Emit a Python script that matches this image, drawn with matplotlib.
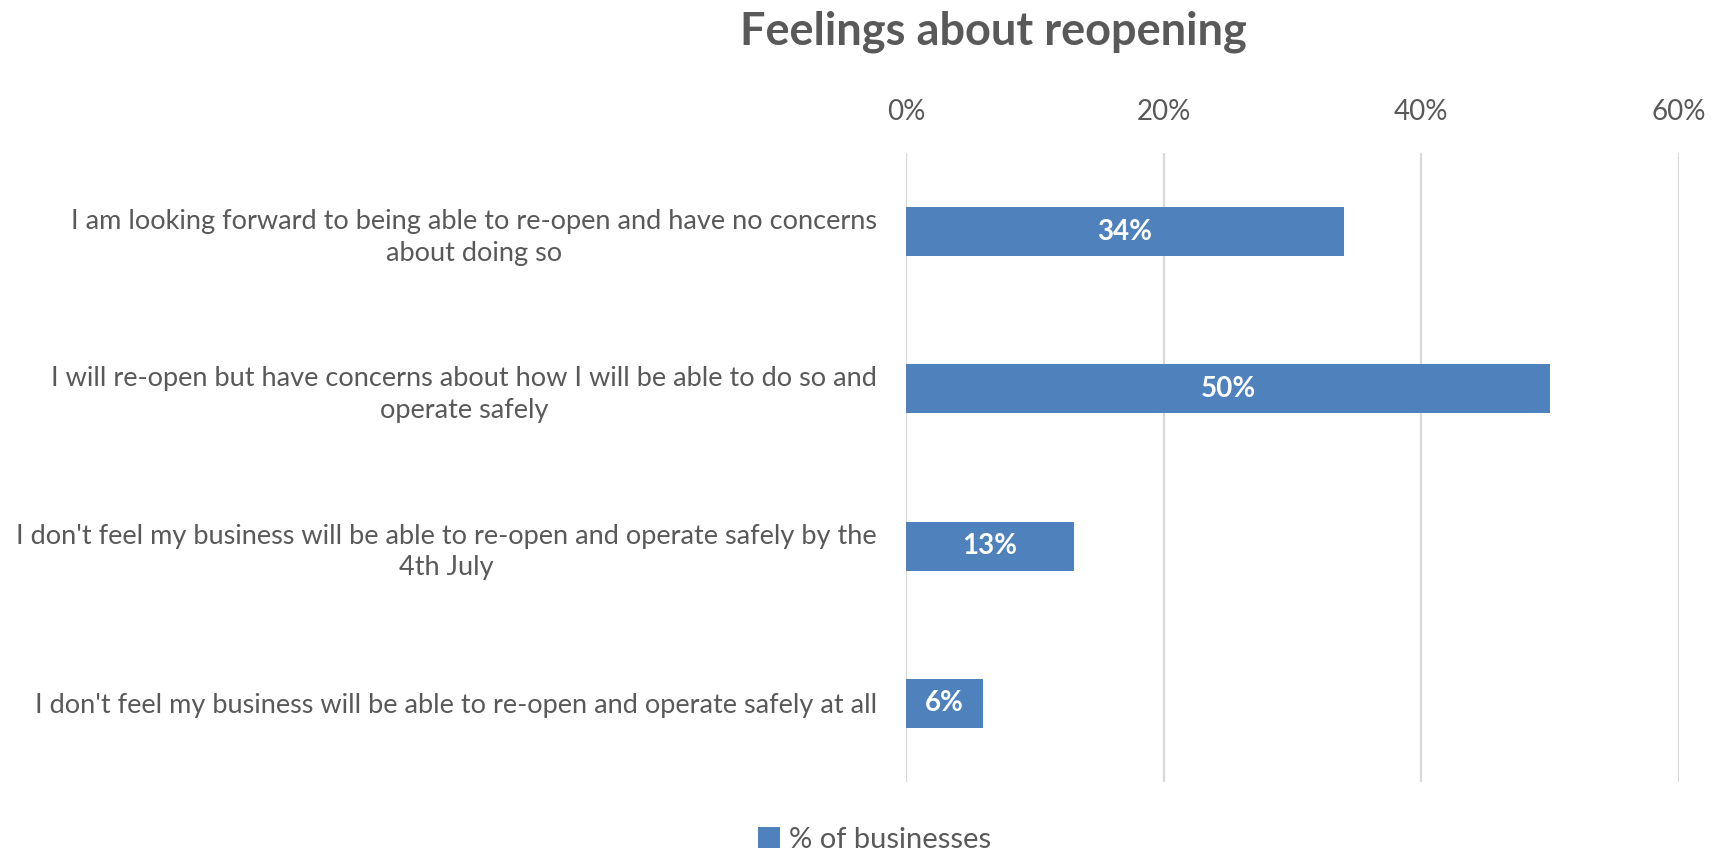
import numpy as np
import matplotlib.pyplot as plt

plt.rcParams['font.family'] = ['Lato', 'DejaVu Sans']

categories = [
    "I am looking forward to being able to re-open and have no concerns\nabout doing so",
    "I will re-open but have concerns about how I will be able to do so and\noperate safely",
    "I don't feel my business will be able to re-open and operate safely by the\n4th July",
    "I don't feel my business will be able to re-open and operate safely at all",
]
pct_businesses = [34, 50, 13, 6]
xticks = [0, 20, 40, 60]

grey = '#595959'
blue = '#4F81BD'

fig = plt.figure(figsize=(17.15, 8.56), dpi=100)
ax = fig.add_axes([0.5283, 0.0864, 0.4507, 0.7349])

y = np.arange(len(categories))
bars = ax.barh(y, pct_businesses, height=0.31, color=blue, label='% of businesses', zorder=3)

for b, v in zip(bars, pct_businesses):
    ax.text(b.get_width() / 2, b.get_y() + b.get_height() / 2, f'{v}%',
            ha='center', va='center', color='white', fontsize=20, fontweight='bold', zorder=4)

ax.set_xlim(0, 60)
ax.set_ylim(3.5, -0.5)
ax.set_xticks(xticks)
ax.set_xticklabels([f'{t}%' for t in xticks], fontsize=20, color=grey)
ax.xaxis.tick_top()
ax.tick_params(axis='x', length=0, pad=20)
ax.set_yticks(y)
ax.set_yticklabels(categories, fontsize=19.5, color=grey, multialignment='center',
                   linespacing=1.33)
ax.tick_params(axis='y', length=0, pad=21)
ax.grid(axis='x', color='#D9D9D9', linewidth=1.6, zorder=0)
for s in ax.spines.values():
    s.set_visible(False)

fig.text(0.579, 0.963, 'Feelings about reopening', ha='center', va='center',
         fontsize=32.5, fontweight='bold', color=grey)

fig.legend(loc='center', bbox_to_anchor=(0.51, 0.019), frameon=False, fontsize=21,
           handlelength=0.75, handleheight=0.75, handletextpad=0.3, labelcolor=grey,
           borderpad=0.1)

fig.savefig('out.png', dpi=100)
